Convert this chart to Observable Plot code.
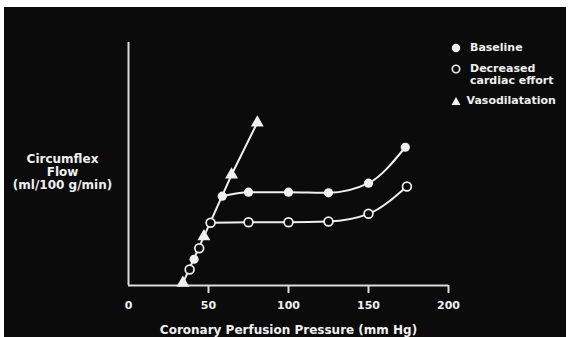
<!DOCTYPE html>
<html><head><meta charset="utf-8">
<script src="https://cdn.jsdelivr.net/npm/d3@7"></script>
<script src="https://cdn.jsdelivr.net/npm/@observablehq/plot@0.6"></script>
<style>
html,body{margin:0;padding:0;background:#fff;}
#wrap{position:relative;width:570px;height:337px;background:#fff;overflow:hidden;}
#chart{position:absolute;left:4px;top:7px;width:562px;height:330px;background:#0b0b0b;}
.lg{position:absolute;display:flex;align-items:flex-start;font:bold 11px "DejaVu Sans",sans-serif;color:#f0f0f0;line-height:12.4px;white-space:pre;}
.lg svg{display:block;flex:none;margin-top:1.2px;}
</style>
</head><body>
<div id="wrap"><div id="chart"></div>
<div class="lg" style="left:451px;top:42px"><svg width="10" height="10"><circle cx="5" cy="5" r="4.2" fill="#f0f0f0"/></svg><span style="margin-left:9px">Baseline</span></div>
<div class="lg" style="left:451px;top:63px"><svg width="10" height="10"><circle cx="5" cy="5" r="3.7" fill="#0b0b0b" stroke="#f0f0f0" stroke-width="1.6"/></svg><span style="margin-left:9px">Decreased
cardiac effort</span></div>
<div class="lg" style="left:451px;top:95px"><svg width="10" height="10"><path d="M5,1L9.5,9H0.5Z" fill="#f0f0f0"/></svg><span style="margin-left:5.5px">Vasodilatation</span></div>
</div>
<script>
// Coronary perfusion pressure (mm Hg) and circumflex flow (arbitrary units)
const pressureBaseline = [41, 58.6, 75, 100, 125, 150, 173];
const flowBaseline     = [21.6, 73.5, 76.8, 76.8, 76.3, 84.2, 113.8];
const pressureDecreased = [38.2, 44.2, 51.3, 75, 100, 125, 150, 174];
const flowDecreased     = [13.2, 30.7, 51.6, 52.1, 52.1, 52.7, 59, 81.5];
const pressureVaso = [34, 47.1, 64.4, 80.5];
const flowVaso     = [2, 40.3, 91.1, 134];
const xTicks = [0, 50, 100, 150, 200];
const xLabel = "Coronary Perfusion Pressure (mm Hg)";
const yLabel = "Circumflex\nFlow\n(ml/100 g/min)";

const toRows = (xs, ys) => xs.map((x, i) => ({x, y: ys[i]}));
const baseline = toRows(pressureBaseline, flowBaseline);
const decreased = toRows(pressureDecreased, flowDecreased);
const vaso = toRows(pressureVaso, flowVaso);
// the rising limb of each curve lies on the vasodilatation line; the plateau starts at the kink
const plateau = (rows) => {
  const k = rows.findIndex((d, i) => i > 0 && i < rows.length - 1 && (rows[i + 1].y - d.y) / (rows[i + 1].x - d.x) < 1);
  return rows.slice(k);
};

const ink = "#f0f0f0";
const bg = "#0b0b0b";

const chart = Plot.plot({
  width: 562, height: 330,
  marginLeft: 124, marginRight: 118, marginTop: 35, marginBottom: 52,
  x: {domain: [0, 200], axis: null},
  y: {domain: [0, 200], axis: null},
  style: {background: "transparent", color: ink, fontFamily: "'DejaVu Sans', sans-serif", fontSize: "11px", fontWeight: "bold", overflow: "visible"},
  marks: [
    Plot.ruleX([0], {y1: 0, y2: 200, stroke: "#dcdcdc", strokeWidth: 2}),
    Plot.ruleY([0], {x1: 0, x2: 200, stroke: "#dcdcdc", strokeWidth: 2}),
    Plot.axisX(xTicks.slice(1), {tickSize: 8, text: null, label: null, stroke: "#dcdcdc", strokeWidth: 2}),
    Plot.axisX(xTicks, {tickSize: 0, tickPadding: 16, label: null, fill: ink}),
    Plot.line(vaso, {x: "x", y: "y", stroke: ink, strokeWidth: 2}),
    Plot.line(plateau(baseline), {x: "x", y: "y", stroke: ink, strokeWidth: 2, curve: "monotone-x"}),
    Plot.line(plateau(decreased), {x: "x", y: "y", stroke: ink, strokeWidth: 2, curve: "monotone-x"}),
    Plot.dot(vaso, {x: "x", y: "y", symbol: "triangle", r: 4.8, fill: ink}),
    Plot.dot(decreased, {x: "x", y: "y", r: 4.4, fill: bg, stroke: ink, strokeWidth: 1.7}),
    Plot.dot(baseline, {x: "x", y: "y", r: 4.6, fill: ink}),
    Plot.text([xLabel], {frameAnchor: "bottom", dy: 48, fontSize: 12, fill: ink}),
    Plot.text([yLabel], {frameAnchor: "left", dx: -66, dy: 8, textAnchor: "middle", lineHeight: 1.1, fontSize: 12, fill: ink})
  ]
});
document.getElementById("chart").appendChild(chart);
</script>
</body></html>
